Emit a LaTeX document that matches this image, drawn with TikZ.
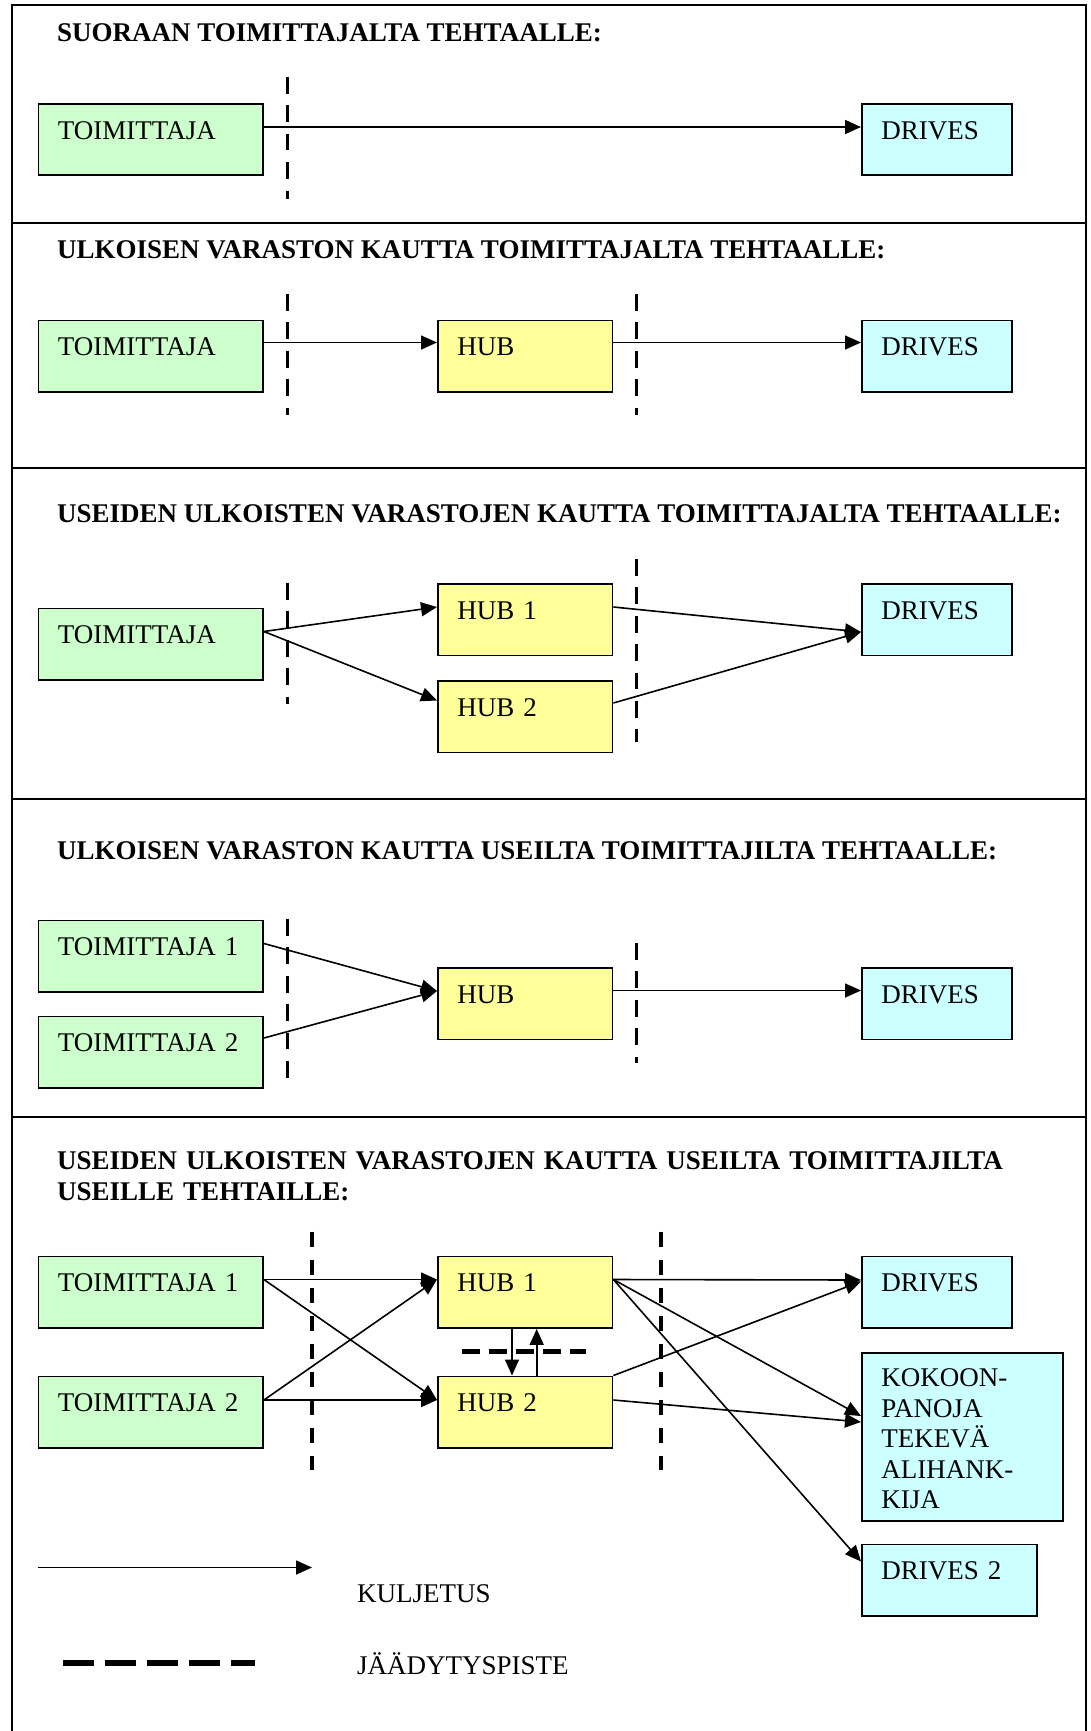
\documentclass[tikz,border=0pt]{standalone}
\usepackage{fontspec}
\setmainfont{Liberation Serif}
\usetikzlibrary{arrows.meta}

\definecolor{supgreen}{HTML}{CCFFCC}
\definecolor{hubyellow}{HTML}{FFFF99}
\definecolor{plantcyan}{HTML}{CCFFFF}

% left inset of each text line inside the boxes
\newcommand{\ind}{\hspace*{19.5pt}}

\tikzset{
  box/.style={draw=black, line width=1.9pt, anchor=north west,
    inner xsep=0pt, inner ysep=0pt, text width=#1, align=left,
    text height=35.5pt, text depth=36pt,
    font=\fontsize{27}{30.5}\selectfont},
  supbox/.style={box=224.5pt, fill=supgreen},
  hubbox/.style={box=174.5pt, fill=hubyellow},
  plantbox/.style={box=#1, fill=plantcyan},
  title/.style={anchor=base west, inner sep=0pt,
    font=\bfseries\fontsize{27}{30.5}\selectfont},
  legendtext/.style={anchor=base west, inner sep=0pt,
    font=\fontsize{27}{30.5}\selectfont},
  conn/.style={line width=1.6pt, -{Triangle[length=16pt,width=14pt]}},
  cut/.style={line width=3pt, dash pattern=on 16.7pt off 11.7pt},
  cutwide/.style={line width=3.5pt, dash pattern=on 15pt off 13pt},
  freeze/.style={line width=4.5pt, dash pattern=on 18pt off 9pt},
  legendfreeze/.style={line width=6pt, dash pattern=on 31pt off 11pt},
  frame/.style={line width=2pt},
}

\begin{document}
\begin{tikzpicture}[x=1pt, y=-1pt]
\useasboundingbox (0,0) rectangle (1090,1731);
\fill[white] (0,0) rectangle (1090,1731);

% outer frame and section rules
\coordinate (fTL) at (12,5.5);
\coordinate (fTR) at (1086,5.5);
\coordinate (fBL) at (12,1731);
\coordinate (fBR) at (1086,1731);
\draw[frame] (fBL) -- (fTL) -- (fTR) -- (fBR);
\foreach \yy in {223,468,798.5,1116.5}
  \draw[frame] (12,\yy) -- (1086,\yy);

% ---------- section 1: direct delivery ----------
\node[title] (t1) at (57,41.8) {SUORAAN TOIMITTAJALTA TEHTAALLE:};
\node[supbox] (a1) at (37.5,103) {\ind TOIMITTAJA};
\node[plantbox=150pt] (a2) at (861,103) {\ind DRIVES};
\draw[conn] ([yshift=-24pt]a1.north east) -- ([yshift=-24pt]a2.north west);
\coordinate (a3t) at (287.5,77);
\coordinate (a3b) at (287.5,199);
\draw[cut] (a3t) -- (a3b);

% ---------- section 2: through one hub ----------
\node[title] (t2) at (57,258.3) {ULKOISEN VARASTON KAUTTA TOIMITTAJALTA TEHTAALLE:};
\node[supbox] (b1) at (37.5,319.5) {\ind TOIMITTAJA};
\node[hubbox] (b2) at (437,319.5) {\ind HUB};
\node[plantbox=150pt] (b3) at (861,319.5) {\ind DRIVES};
\draw[conn] ([yshift=-23pt]b1.north east) -- ([yshift=-23pt]b2.north west);
\draw[conn] ([yshift=-23pt]b2.north east) -- ([yshift=-23pt]b3.north west);
\coordinate (b4t) at (287.5,294);
\coordinate (b4b) at (287.5,415);
\coordinate (b5t) at (636.5,294);
\coordinate (b5b) at (636.5,415);
\draw[cut] (b4t) -- (b4b);
\draw[cut] (b5t) -- (b5b);

% ---------- section 3: through two hubs ----------
\node[title] (t3) at (57,522) {USEIDEN ULKOISTEN VARASTOJEN KAUTTA TOIMITTAJALTA TEHTAALLE:};
\node[supbox] (c1) at (37.5,607.5) {\ind TOIMITTAJA};
\node[hubbox] (c2) at (437,583) {\ind HUB 1};
\node[hubbox] (c3) at (437,680) {\ind HUB 2};
\node[plantbox=150pt] (c4) at (861,583) {\ind DRIVES};
\draw[conn] ([yshift=-24pt]c1.north east) -- ([yshift=-24pt]c2.north west);
\draw[conn] ([yshift=-24pt]c1.north east) -- ([yshift=-20.5pt]c3.north west);
\draw[conn] ([yshift=-24pt]c2.north east) -- ([yshift=-49pt]c4.north west);
\draw[conn] ([yshift=-23pt]c3.north east) -- ([yshift=-49pt]c4.north west);
\coordinate (c5t) at (287.5,583);
\coordinate (c5b) at (287.5,703.5);
\coordinate (c6t) at (636.5,559);
\coordinate (c6b) at (636.5,742);
\draw[cut] (c5t) -- (c5b);
\draw[cut] (c6t) -- (c6b);

% ---------- section 4: two suppliers, one hub ----------
\node[title] (t4) at (57,859) {ULKOISEN VARASTON KAUTTA USEILTA TOIMITTAJILTA TEHTAALLE:};
\node[supbox] (d1) at (37.5,919.5) {\ind TOIMITTAJA 1};
\node[supbox] (d2) at (37.5,1015.5) {\ind TOIMITTAJA 2};
\node[hubbox] (d3) at (437,967) {\ind HUB};
\node[plantbox=150pt] (d4) at (861,967) {\ind DRIVES};
\draw[conn] ([yshift=-24pt]d1.north east) -- ([yshift=-24pt]d3.north west);
\draw[conn] ([yshift=-22.5pt]d2.north east) -- ([yshift=-24pt]d3.north west);
\draw[conn] ([yshift=-23.5pt]d3.north east) -- ([yshift=-23.5pt]d4.north west);
\coordinate (d5t) at (287.5,919);
\coordinate (d5b) at (287.5,1087);
\coordinate (d6t) at (636.5,943);
\coordinate (d6b) at (636.5,1063);
\draw[cut] (d5t) -- (d5b);
\draw[cut] (d6t) -- (d6b);

% ---------- section 5: many suppliers, hubs and plants ----------
\node[title, text width=1020pt, align=left] (t5) at (57,1169.5)
  {USEIDEN ULKOISTEN VARASTOJEN KAUTTA USEILTA TOIMITTAJILTA\\USEILLE TEHTAILLE:};
\node[supbox] (e1) at (37.5,1255.5) {\ind TOIMITTAJA 1};
\node[supbox] (e2) at (37.5,1375.5) {\ind TOIMITTAJA 2};
\node[hubbox] (e3) at (437,1255.5) {\ind HUB 1};
\node[hubbox] (e4) at (437,1375.5) {\ind HUB 2};
\node[plantbox=150pt] (e5) at (861,1255.5) {\ind DRIVES};
\node[plantbox=201pt, text height=34pt, text depth=134pt] (e6) at (861,1352)
  {\ind KOKOON-\\\ind PANOJA\\\ind TEKEVÄ\\\ind ALIHANK-\\\ind KIJA};
\node[plantbox=175pt] (e7) at (861,1543.5) {\ind DRIVES 2};

\draw[conn] ([yshift=-24pt]e1.north east) -- ([yshift=-24pt]e3.north west);
\draw[conn] ([yshift=-24pt]e1.north east) -- ([yshift=-24.5pt]e4.north west);
\draw[conn] ([yshift=-24.5pt]e2.north east) -- ([yshift=-24pt]e3.north west);
\draw[conn] ([yshift=-24.5pt]e2.north east) -- ([yshift=-24.5pt]e4.north west);
\draw[conn] ([yshift=-24pt]e3.north east) -- ([yshift=-24.5pt]e5.north west);
\draw[conn] (e4.north east) -- ([yshift=-26pt]e5.north west);
\draw[conn] ([yshift=-24pt]e3.north east) -- ([yshift=-64pt]e6.north west);
\draw[conn] ([yshift=-24.5pt]e4.north east) -- ([yshift=-70pt]e6.north west);
\draw[conn] ([yshift=-24pt]e3.north east) -- ([yshift=-18pt]e7.north west);
\draw[conn] ([xshift=75pt]e3.south west) -- ([xshift=75pt]e4.north west);
\draw[conn] ([xshift=99.7pt]e4.north west) -- ([xshift=99.7pt]e3.south west);

\coordinate (e8l) at (462,1351.5);
\coordinate (e8r) at (586,1351.5);
\draw[freeze] (e8l) -- (e8r);
\coordinate (e9t) at (312,1231.5);
\coordinate (e9b) at (312,1470);
\coordinate (e10t) at (661,1231.5);
\coordinate (e10b) at (661,1470);
\draw[cutwide] (e9t) -- (e9b);
\draw[cutwide] (e10t) -- (e10b);

% ---------- legend ----------
\coordinate (g1l) at (38,1567.5);
\coordinate (g1r) at (312,1567.5);
\draw[conn] (g1l) -- (g1r);
\node[legendtext] (g2) at (357,1602) {KULJETUS};
\coordinate (g3l) at (62.5,1663.3);
\coordinate (g3r) at (255.4,1663.3);
\draw[legendfreeze] (g3l) -- (g3r);
\node[legendtext] (g4) at (357,1674) {JÄÄDYTYSPISTE};
\end{tikzpicture}
\end{document}
